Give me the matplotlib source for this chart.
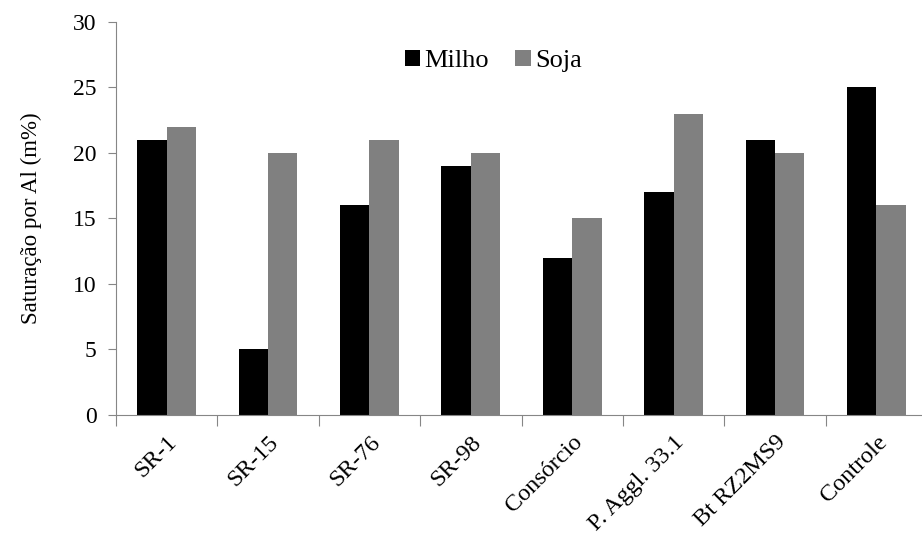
import matplotlib.pyplot as plt
import numpy as np

categories = ["SR-1", "SR-15", "SR-76", "SR-98", "Consórcio",
              "P. Aggl. 33.1", "Bt RZ2MS9", "Controle"]
milho = [21, 5, 16, 19, 12, 17, 21, 25]
soja = [22, 20, 21, 20, 15, 23, 20, 16]

plt.rcParams["font.family"] = ["Liberation Serif", "DejaVu Serif"]

fig = plt.figure(figsize=(9.22, 5.48), dpi=100)
ax = fig.add_axes([0.1258, 0.2427, 0.8742, 0.7172])

x = np.arange(len(categories))
w = 0.29
ax.bar(x - w / 2, milho, w, color="black", label="Milho")
ax.bar(x + w / 2, soja, w, color="#808080", label="Soja")

ax.set_ylim(0, 30)
ax.set_xlim(-0.5, 7.45)
ax.set_yticks(range(0, 31, 5))
ax.tick_params(axis="y", labelsize=17, length=6, pad=8, color="#868686", direction="out")

# category labels between boundary ticks, Excel style
ax.set_xticks(x - 0.5)
ax.set_xticklabels([])
ax.tick_params(axis="x", length=8, color="#868686", direction="out")
ax.set_xticks(x, minor=True)
ax.set_xticklabels(categories, minor=True, rotation=45, ha="right",
                   rotation_mode="anchor", fontsize=17.5)
ax.tick_params(axis="x", which="minor", length=0, pad=12)

for s in ["top", "right"]:
    ax.spines[s].set_visible(False)
for s in ["left", "bottom"]:
    ax.spines[s].set_color("#868686")

ax.set_ylabel("Saturação por Al (m%)", fontsize=16.5, labelpad=22)

ax.legend(loc="upper center", bbox_to_anchor=(0.468, 0.99), ncol=2, frameon=False,
          fontsize=19, handlelength=0.6, handleheight=0.6, handletextpad=0.15,
          columnspacing=1.0)

fig.savefig("out.png", dpi=100)
